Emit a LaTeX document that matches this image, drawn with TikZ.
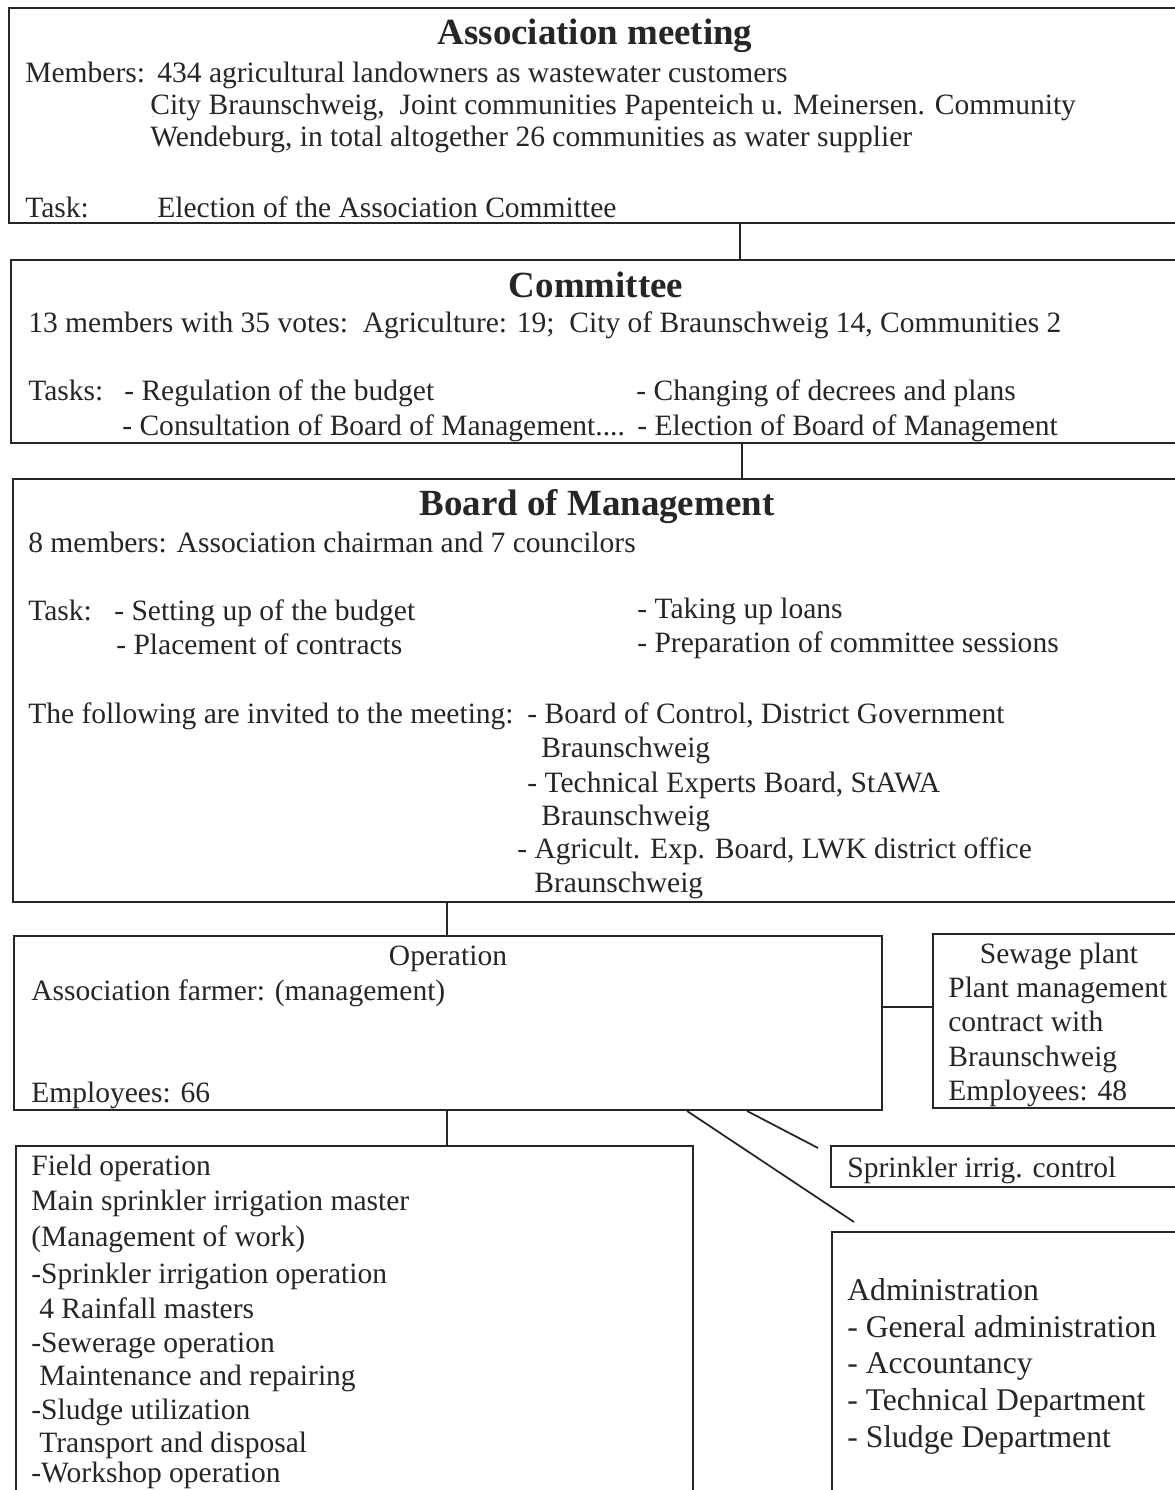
\documentclass[tikz,border=0pt]{standalone}
\usepackage{fontspec}
\setmainfont{Liberation Serif}
\usetikzlibrary{fit}

\definecolor{ink}{RGB}{38,38,38}

\tikzset{
	box/.style={draw=ink, line width=1.1pt, inner sep=0pt},
	txt/.style={anchor=base west, inner sep=0pt, text=ink, font=\fontsize{16.8}{19}\selectfont},
	bigtxt/.style={txt, font=\fontsize{18}{21}\selectfont},
	ttl/.style={anchor=base, inner sep=0pt, text=ink, font=\bfseries\fontsize{21}{24}\selectfont},
	link/.style={draw=ink, line width=1pt},
}

\begin{document}
\begin{tikzpicture}[x=0.02cm,y=-0.02cm]

	\useasboundingbox (0,0) rectangle (1175,1490);
	\clip (0,0) rectangle (1175,1490);
	\fill [white] (0,0) rectangle (1175,1490);

	% The boxes
	\node [box, fit={(9,8) (1200,223)}]     (assoc)     {};
	\node [box, fit={(11,260) (1200,443)}]  (committee) {};
	\node [box, fit={(13,479) (1200,902)}]  (board)     {};
	\node [box, fit={(14,936) (882,1110)}]  (oper)      {};
	\node [box, fit={(933,934) (1200,1108)}] (sewage)   {};
	\node [box, fit={(831,1146) (1200,1187)}] (sprink)  {};
	\node [box, fit={(16,1146) (693,1600)}] (field)     {};
	\node [box, fit={(832,1232) (1200,1600)}] (admin)   {};

	% The links between the boxes
	\coordinate (tieA) at (740,0);
	\coordinate (tieB) at (742,0);
	\coordinate (tieC) at (447,0);
	\coordinate (tieD) at (0,1007);
	\coordinate (tieE) at (747,0);
	\coordinate (tieF) at (687,0);
	\coordinate (sprinkEnd) at (818,1148);
	\coordinate (adminEnd)  at (854,1222);

	\draw [link] (assoc.south -| tieA) -- (committee.north -| tieA);
	\draw [link] (committee.south -| tieB) -- (board.north -| tieB);
	\draw [link] (board.south -| tieC) -- (oper.north -| tieC);
	\draw [link] (oper.south -| tieC) -- (field.north -| tieC);
	\draw [link] (oper.east |- tieD) -- (sewage.west |- tieD);
	\draw [link] (oper.south -| tieE) -- (sprinkEnd);
	\draw [link] (oper.south -| tieF) -- (adminEnd);

	% Association meeting
	\node [ttl] (assoc-t) at (595,45) {Association meeting};
	\node [txt] (assoc-m) at (25,83)  {Members:};
	\node [txt] (assoc-1) at (157,83) {434 agricultural landowners as wastewater customers};
	\node [txt] (assoc-2) at (150,115) {City Braunschweig,\ \ Joint communities Papenteich u. Meinersen. Community};
	\node [txt] (assoc-3) at (150,147) {Wendeburg, in total altogether 26 communities as water supplier};
	\node [txt] (assoc-k) at (25,217)  {Task:};
	\node [txt] (assoc-4) at (157,217) {Election of the Association Committee};

	% Committee
	\node [ttl] (comm-t) at (596,297) {Committee};
	\node [txt] (comm-1) at (28,332)  {13 members with 35 votes:\ \ Agriculture: 19;\ \ City of Braunschweig 14, Communities 2};
	\node [txt] (comm-k) at (28,400)  {Tasks:};
	\node [txt] (comm-2) at (124,400) {- Regulation of the budget};
	\node [txt] (comm-3) at (122,435) {- Consultation of Board of Management....};
	\node [txt] (comm-4) at (636,400) {- Changing of decrees and plans};
	\node [txt] (comm-5) at (637,435) {- Election of Board of Management};

	% Board of Management
	\node [ttl] (board-t) at (597,515) {Board of Management};
	\node [txt] (board-1) at (28,552)  {8 members: Association chairman and 7 councilors};
	\node [txt] (board-k) at (28,620)  {Task:};
	\node [txt] (board-2) at (114,620) {- Setting up of the budget};
	\node [txt] (board-3) at (116,654) {- Placement of contracts};
	\node [txt] (board-4) at (637,618) {- Taking up loans};
	\node [txt] (board-5) at (637,652) {- Preparation of committee sessions};
	\node [txt] (board-i) at (28,723)  {The following are invited to the meeting:};
	\foreach \i/\xx/\yy/\t in {1/527/723/{- Board of Control, District Government},
	                           2/541/757/Braunschweig,
	                           3/527/792/{- Technical Experts Board, StAWA},
	                           4/541/825/Braunschweig,
	                           5/517/858/{- Agricult. Exp. Board, LWK district office},
	                           6/534/892/Braunschweig}{
		\node [txt] (guest-\i) at (\xx,\yy) {\t};
	}

	% Operation and sewage plant
	\node [txt, anchor=base] (oper-t) at (448,965) {Operation};
	\node [txt] (oper-1) at (31,1000) {Association farmer: (management)};
	\node [txt] (oper-2) at (31,1102) {Employees: 66};
	\node [txt, anchor=base] (sewage-t) at (1059,963) {Sewage plant};
	\foreach \i/\yy/\t in {1/997/Plant management, 2/1031/contract with,
	                       3/1066/Braunschweig, 4/1100/Employees: 48}{
		\node [txt] (sewage-\i) at (948,\yy) {\t};
	}
	\node [txt] (sprink-t) at (847,1177) {Sprinkler irrig. control};

	% Field operation
	\foreach \i/\xx/\yy/\t in {1/31/1175/Field operation,
	                           2/31/1210/Main sprinkler irrigation master,
	                           3/31/1246/(Management of work),
	                           4/31/1283/-Sprinkler irrigation operation,
	                           5/39/1318/4 Rainfall masters,
	                           6/31/1352/-Sewerage operation,
	                           7/39/1385/Maintenance and repairing,
	                           8/31/1419/-Sludge utilization,
	                           9/39/1452/Transport and disposal,
	                           10/31/1482/-Workshop operation}{
		\node [txt] (field-\i) at (\xx,\yy) {\t};
	}

	% Administration
	\foreach \i/\yy/\t in {1/1300/Administration, 2/1337/- General administration,
	                       3/1373/- Accountancy, 4/1410/- Technical Department,
	                       5/1447/- Sludge Department}{
		\node [bigtxt] (admin-\i) at (847,\yy) {\t};
	}

\end{tikzpicture}
\end{document}
